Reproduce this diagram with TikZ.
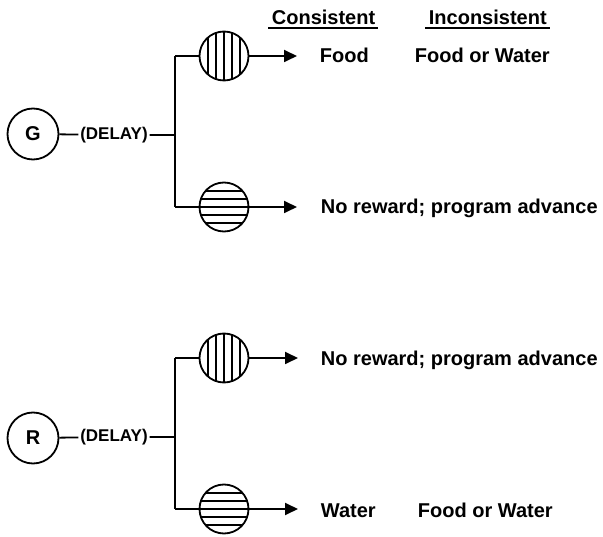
\documentclass[tikz,border=0pt]{standalone}
\usepackage{fontspec}
\setmainfont{Liberation Sans}
\usetikzlibrary{arrows.meta}
\begin{document}
\begin{tikzpicture}[x=1pt,y=-1pt,
  line width=1.8pt,
  every node/.style={font=\bfseries\fontsize{20}{24}\selectfont},
  stim/.style={circle,draw,minimum size=51pt,inner sep=0pt,line width=1.8pt},
  delaybox/.style={inner sep=1pt,font=\bfseries\fontsize{17}{20}\selectfont},
  ball/.style={circle,draw,minimum size=49pt,inner sep=0pt,line width=1.8pt},
  vstripe/.style={ball,path picture={\foreach \d in {-16,-8,0,8,16}
      \draw[line width=1.2pt] ([xshift=\d pt]path picture bounding box.north) -- ([xshift=\d pt]path picture bounding box.south);}},
  hstripe/.style={ball,path picture={\foreach \d in {-16,-8,0,8,16}
      \draw[line width=1.2pt] ([yshift=\d pt]path picture bounding box.west) -- ([yshift=\d pt]path picture bounding box.east);}},
  arr/.style={-{Triangle[length=13pt,width=12pt]}},
  lbl/.style={anchor=base west,inner sep=0pt},
  uline/.style={line width=1.4pt}
]
\useasboundingbox (0,0) rectangle (603,537);

% headings
\node[lbl] (hcons) at (271,25) {Consistent};
\node[lbl] (hinc) at (428,25) {Inconsistent};
\draw[uline] ([shift={(-3,3)}]hcons.base west) -- ([shift={(2,3)}]hcons.base east);
\draw[uline] ([shift={(-3,3)}]hinc.base west) -- ([shift={(2,3)}]hinc.base east);

% ---------- G block ----------
\node[stim] (g) at (33,134) {G};
\node[delaybox] (gd) at (114,135) {(DELAY)};
\coordinate (gj) at (175,135);
\coordinate (gjt) at (175,56);
\coordinate (gjb) at (175,207);
\node[vstripe] (gv) at (224,56) {};
\node[hstripe] (gh) at (224,207) {};
\coordinate (gve) at (297,56);
\coordinate (ghe) at (297,207);
\draw (g) -- (gd) -- (gj);
\draw (gjt) -- (gjb);
\draw (gjt) -- (gv);
\draw (gjb) -- (gh);
\draw[arr] (gv) -- (gve);
\draw[arr] (gh) -- (ghe);
\node[lbl] (gfood) at (319,63) {Food};
\node[lbl] (gfw) at (414,63) {Food or Water};
\node[lbl] (gnr) at (320,214) {No reward; program advance};

% ---------- R block ----------
\node[stim] (r) at (33,438) {R};
\node[delaybox] (rd) at (114,437) {(DELAY)};
\coordinate (rj) at (175,437);
\coordinate (rjt) at (175,358);
\coordinate (rjb) at (175,509);
\node[vstripe] (rv) at (224,358) {};
\node[hstripe] (rh) at (224,509) {};
\coordinate (rve) at (298,358);
\coordinate (rhe) at (298,509);
\draw (r) -- (rd) -- (rj);
\draw (rjt) -- (rjb);
\draw (rjt) -- (rv);
\draw (rjb) -- (rh);
\draw[arr] (rv) -- (rve);
\draw[arr] (rh) -- (rhe);
\node[lbl] (rnr) at (320,366) {No reward; program advance};
\node[lbl] (rwat) at (320,517) {Water};
\node[lbl] (rfw) at (417,517) {Food or Water};
\end{tikzpicture}
\end{document}
